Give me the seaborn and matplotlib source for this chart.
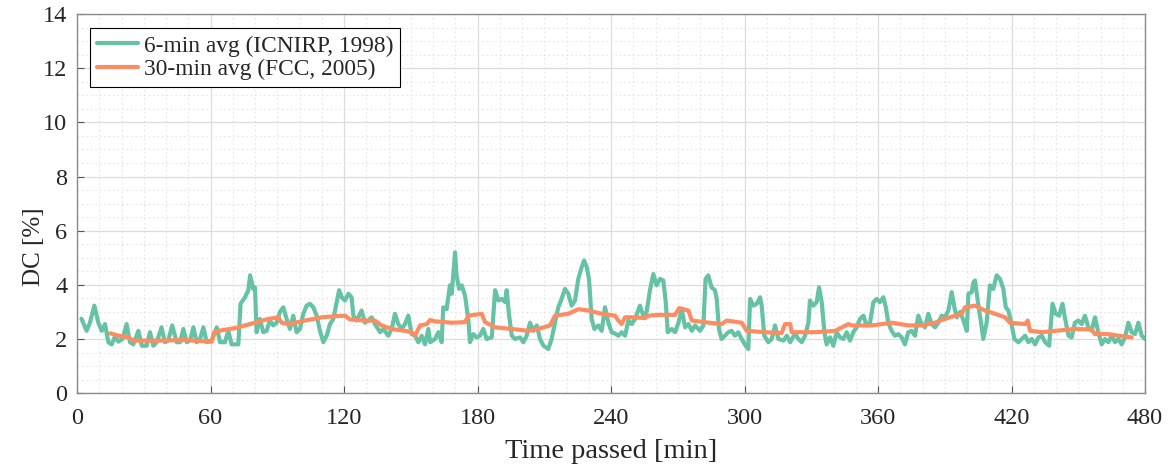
import numpy as np
import pandas as pd
import matplotlib
matplotlib.use("Agg")
import matplotlib.pyplot as plt
from matplotlib.ticker import MultipleLocator
import seaborn as sns

# ---- data ----
t6 = [2.0, 4.3, 5.8, 7.8, 9.6, 11.1, 12.6, 14.1, 15.6, 17.1, 18.6, 20.5, 22.3, 23.8, 25.3, 27.6,
      29.1, 31.3, 32.8, 34.3, 35.8, 38.0, 39.5, 41.0, 42.8, 44.8, 46.3, 47.8, 49.3, 50.8, 52.3,
      53.8, 55.3, 56.8, 58.3, 60.5, 62.8, 64.3, 66.5, 68.0, 69.5, 72.5, 73.5, 75.5, 77.0, 77.8,
      79.2, 80.0, 80.7, 82.2, 83.7, 85.2, 86.7, 88.2, 89.7, 91.2, 92.7, 94.2, 95.7, 97.2, 98.7,
      100.2, 101.7, 103.2, 104.7, 106.2, 107.7, 109.2, 110.7, 112.2, 113.7, 115.2, 116.7, 117.8,
      119.0, 120.4, 122.0, 123.4, 124.2, 125.7, 127.9, 129.4, 130.9, 132.4, 133.9, 136.2, 137.7,
      139.9, 141.4, 142.9, 144.4, 145.9, 147.4, 148.9, 150.4, 151.9, 153.4, 154.9, 156.4, 157.9,
      158.7, 160.9, 162.4, 163.9, 164.6, 166.1, 167.6, 168.4, 169.1, 169.9, 170.6, 171.7, 172.9,
      174.4, 175.9, 176.6, 178.1, 179.6, 181.1, 182.6, 184.1, 186.4, 187.9, 189.4, 190.9, 192.4,
      193.1, 194.2, 195.4, 196.9, 199.1, 200.6, 202.1, 203.6, 205.1, 206.6, 208.1, 209.6, 211.8,
      213.3, 214.8, 216.3, 217.8, 219.3, 220.8, 222.3, 223.8, 225.3, 226.8, 227.9, 229.1, 230.1,
      231.3, 232.5, 234.3, 235.8, 237.3, 238.8, 240.3, 241.8, 243.3, 244.8, 246.3, 247.8, 249.3,
      250.8, 253.0, 254.5, 256.0, 257.5, 259.0, 260.5, 262.0, 263.5, 264.6, 265.5, 267.3, 268.8,
      270.3, 271.8, 273.3, 274.8, 276.3, 277.8, 280.0, 281.5, 282.5, 283.7, 285.2, 286.7, 287.5,
      288.5, 289.7, 291.2, 292.7, 294.2, 295.7, 297.2, 298.7, 300.5, 301.7, 302.5, 304.0, 305.5,
      307.0, 307.7, 308.9, 310.7, 312.2, 313.7, 315.2, 317.5, 319.0, 320.5, 322.7, 324.2, 325.7,
      327.2, 328.7, 329.4, 330.9, 332.4, 333.5, 334.7, 335.9, 336.9, 338.4, 339.9, 341.4, 342.9,
      344.4, 345.9, 347.4, 348.9, 350.4, 351.9, 353.4, 354.9, 356.4, 357.9, 359.4, 360.9, 362.4,
      363.5, 364.6, 366.1, 367.6, 369.1, 370.6, 372.1, 373.6, 375.1, 376.6, 378.1, 379.6, 381.1,
      382.6, 384.1, 385.6, 387.1, 388.6, 390.1, 391.6, 393.1, 394.3, 395.4, 396.9, 398.4, 399.9,
      400.6, 402.1, 402.9, 403.6, 405.1, 406.3, 407.3, 408.8, 410.3, 411.8, 413.3, 414.8, 416.3,
      417.4, 418.6, 420.1, 421.3, 423.1, 424.6, 426.1, 427.6, 429.1, 430.6, 432.1, 433.6, 435.1,
      436.9, 438.4, 439.9, 441.4, 442.9, 444.1, 445.6, 447.0, 448.5, 450.0, 451.5, 453.0, 454.5,
      456.0, 457.5, 459.0, 460.5, 462.0, 463.5, 465.0, 466.5, 468.0, 469.5, 471.0, 472.5, 474.0,
      475.5, 477.0, 478.5, 480.0]
dc6 = [2.75, 2.3, 2.6, 3.23, 2.6, 2.3, 2.55, 1.88, 1.8, 2.1, 1.9, 2.0, 2.55, 1.88, 1.8, 2.3,
       1.75, 1.75, 2.25, 1.75, 1.88, 2.43, 1.88, 1.94, 2.5, 1.88, 1.88, 2.37, 1.88, 1.94, 2.43,
       1.88, 2.0, 2.43, 1.88, 1.94, 2.43, 1.88, 1.88, 2.3, 1.8, 1.8, 3.3, 3.54, 3.8, 4.35,
       3.85, 3.9, 2.25, 2.74, 2.25, 2.3, 2.68, 2.5, 2.6, 3.0, 3.17, 2.74, 2.37, 2.86, 2.25,
       2.37, 2.93, 3.23, 3.3, 3.17, 2.86, 2.3, 1.88, 2.12, 2.55, 2.74, 3.36, 3.8,
       3.54, 3.42, 3.67, 3.54, 2.86, 2.68, 3.05, 2.6, 2.68, 2.8, 2.55, 2.25, 2.37,
       2.12, 2.37, 2.93, 2.55, 2.37, 2.55, 2.86, 2.18, 2.12, 1.88, 2.12, 1.8, 2.37,
       1.88, 2.0, 2.25, 1.88, 3.17, 3.1, 3.98, 3.67, 4.35, 5.2, 4.35, 3.85, 3.98,
       3.6, 2.68, 1.88, 2.18, 2.06, 2.12, 2.37, 2.0, 2.06, 3.8, 3.42, 3.48, 3.36,
       3.8, 2.86, 2.12, 2.0, 2.06, 1.88, 2.12, 2.6, 2.3, 2.5, 2.0, 1.75, 1.63,
       2.0, 2.6, 3.17, 3.48, 3.85, 3.67, 3.23, 3.42, 4.22, 4.65, 4.9, 4.65, 4.22,
       2.74, 2.37, 2.5, 2.3, 3.17, 2.6, 2.25, 2.2, 2.12, 2.25, 2.12, 2.68, 2.55,
       2.74, 3.23, 2.86, 3.0, 3.8, 4.4, 3.98, 4.22, 4.16, 3.36, 2.25, 2.37, 2.25,
       2.6, 3.1, 2.43, 2.55, 2.3, 2.5, 2.3, 2.5, 4.22, 4.35, 3.9, 3.8, 3.48,
       2.37, 2.0, 2.12, 2.25, 2.3, 2.12, 2.25, 2.0, 1.75, 1.63, 3.48, 3.23, 3.3,
       3.54, 3.23, 2.12, 1.88, 2.0, 2.5, 2.0, 1.94, 2.12, 1.88, 2.2, 2.0, 1.88,
       2.12, 2.6, 3.42, 3.23, 3.36, 3.91, 3.36, 2.25, 1.8, 2.06, 1.75, 2.25, 2.06,
       2.0, 2.25, 1.94, 2.25, 2.43, 2.74, 2.86, 2.5, 2.6, 3.36, 3.48, 3.36, 3.54,
       3.17, 2.6, 2.3, 2.12, 2.18, 2.06, 1.8, 2.25, 2.3, 2.12, 2.86, 2.55, 2.43,
       2.93, 2.55, 2.43, 2.6, 2.86, 2.8, 3.05, 3.73, 3.17, 2.8, 3.0, 2.68, 2.3,
       3.67, 3.73, 4.1, 4.16, 3.23, 2.6, 2.0, 2.6, 3.98, 3.85, 4.35, 4.22, 3.85,
       3.17, 3.05, 2.5, 2.0, 1.88, 2.0, 2.12, 1.88, 2.0, 1.8, 2.06, 2.12, 1.88,
       1.75, 3.3, 2.93, 2.86, 3.3, 2.74, 2.12, 2.06, 2.6, 2.68, 2.55, 2.86, 2.43,
       2.3, 2.8, 2.25, 1.8, 2.0, 1.88, 2.12, 1.88, 2.0, 1.8, 2.06, 2.6, 2.25,
       2.18, 2.6, 2.12, 2.0]

t30 = [15.0, 18.6, 23.1, 25.3, 36.6, 48.5, 60.5, 61.7, 63.5, 71.0, 80.0, 86.0, 90.5, 92.0, 95.0,
       102.5, 110.0, 116.0, 120.4, 122.7, 129.4, 133.9, 136.9, 141.4, 147.4, 150.4, 151.9, 154.2,
       157.2, 158.7, 160.9, 168.4, 174.4, 175.9, 181.9, 183.4, 187.9, 195.4, 202.9, 207.3, 212.6,
       214.8, 220.8, 225.3, 229.8, 235.8, 241.8, 243.3, 244.8, 246.3, 250.8, 255.3, 256.8, 261.3,
       268.8, 270.6, 274.8, 276.3, 282.2, 289.7, 292.0, 298.7, 301.0, 309.2, 316.7, 318.2, 320.5,
       321.2, 331.7, 340.7, 346.7, 348.2, 357.2, 366.1, 373.6, 379.6, 385.6, 387.9, 394.6, 397.6,
       399.1, 403.6, 408.1, 412.6, 417.1, 419.3, 426.1, 427.3, 428.3, 433.6, 439.6, 448.5, 456.0,
       457.5, 463.5, 468.0, 474.0]
dc30 = [2.21, 2.12, 2.06, 1.94, 1.94, 1.96, 1.9, 2.25, 2.3, 2.4, 2.6, 2.74, 2.8, 2.6, 2.55,
        2.68, 2.8, 2.84, 2.86, 2.72, 2.68, 2.68, 2.5, 2.37, 2.3, 2.25, 2.12, 2.5,
        2.55, 2.7, 2.65, 2.6, 2.62, 2.86, 2.93, 2.62, 2.43, 2.37, 2.3, 2.37, 2.5,
        2.86, 2.93, 3.1, 3.05, 2.93, 2.86, 2.68, 2.55, 2.8, 2.8, 2.77, 2.86, 2.89,
        2.89, 3.14, 3.05, 2.68, 2.62, 2.55, 2.68, 2.6, 2.3, 2.25, 2.22, 2.55, 2.55,
        2.25, 2.25, 2.3, 2.55, 2.5, 2.5, 2.6, 2.5, 2.5, 2.6, 2.68, 2.86, 2.93,
        3.17, 3.23, 3.05, 2.93, 2.8, 2.6, 2.55, 2.68, 2.3, 2.25, 2.3, 2.37, 2.35,
        2.18, 2.18, 2.12, 2.06]

labels = ["6-min avg (ICNIRP, 1998)", "30-min avg (FCC, 2005)"]
colors = ["#66c2a5", "#fc8d62"]
x_ticks = [0, 60, 120, 180, 240, 300, 360, 420, 480]
y_ticks = [0, 2, 4, 6, 8, 10, 12, 14]

df6 = pd.DataFrame({"t": t6, "dc": dc6})
df30 = pd.DataFrame({"t": t30, "dc": dc30})

sns.set_theme(style="whitegrid")
plt.rcParams["font.family"] = ["Liberation Serif", "DejaVu Serif"]

fig = plt.figure(figsize=(11.72, 4.68), dpi=100)
ax = fig.add_axes([0.0657, 0.160, 0.9113, 0.810])

sns.lineplot(data=df6, x="t", y="dc", ax=ax, color=colors[0], linewidth=3.0, label=labels[0])
sns.lineplot(data=df30, x="t", y="dc", ax=ax, color=colors[1], linewidth=3.0, label=labels[1])

ax.set_xlim(0, 480)
ax.set_ylim(0, 14)
ax.set_xticks(x_ticks)
ax.set_yticks(y_ticks)
ax.xaxis.set_minor_locator(MultipleLocator(10))
ax.yaxis.set_minor_locator(MultipleLocator(0.5))
ax.grid(which="major", color="#dcdcdc", linewidth=0.9, linestyle="-")
ax.grid(which="minor", color="#e4e4e4", linewidth=0.8, linestyle=(0, (1.5, 2.5)))
ax.set_axisbelow(True)
ax.set_facecolor("white")
for s in ax.spines.values():
    s.set_color("#8a8a8a")
    s.set_linewidth(1.0)
ax.tick_params(which="major", direction="in", length=5, width=0.8, color="#555555",
               labelsize=17.5, labelcolor="#262626", top=False, right=False,
               bottom=True, left=True)
ax.tick_params(axis="x", which="major", pad=11)
ax.tick_params(axis="y", which="major", pad=7)
ax.tick_params(which="minor", length=0)
ax.set_xlabel("Time passed [min]", fontsize=20.5, labelpad=7, color="#262626")
ax.set_ylabel("DC [%]", fontsize=18, color="#262626")
ax.yaxis.set_label_coords(-0.030, 0.385)

leg = ax.legend(loc="upper left", bbox_to_anchor=(0.008, 0.975), fontsize=16.8, frameon=True,
                fancybox=False, framealpha=1.0, edgecolor="black", borderpad=0.3,
                handlelength=1.75, handletextpad=0.25, labelspacing=0.1, borderaxespad=0.2)
leg.get_frame().set_linewidth(0.8)
for txt in leg.get_texts():
    txt.set_color("#262626")

fig.savefig("out.png", dpi=100)
